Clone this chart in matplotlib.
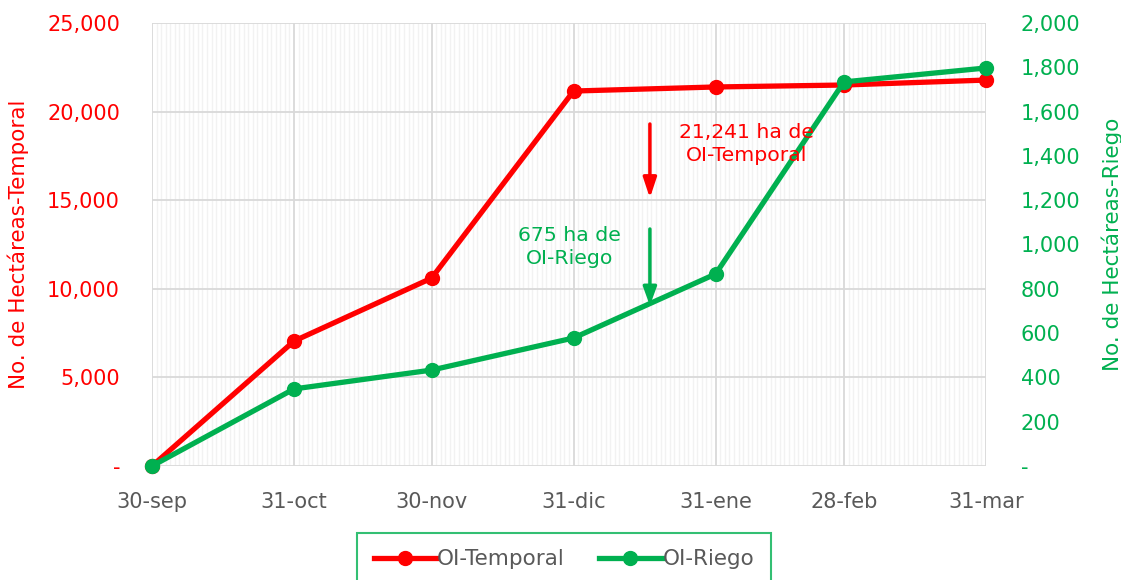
import matplotlib
matplotlib.use("Agg")
import matplotlib.pyplot as plt
import matplotlib.dates as mdates
from matplotlib.ticker import FuncFormatter, MultipleLocator
import datetime as dt

plt.rcParams['font.family'] = ['DejaVu Sans']

dates = ["2021-09-30", "2021-10-31", "2021-11-30", "2021-12-31", "2022-01-31", "2022-02-28", "2022-03-31"]
tick_labels = ["30-sep", "31-oct", "30-nov", "31-dic", "31-ene", "28-feb", "31-mar"]
temporal = [0, 7050, 10600, 21160, 21390, 21500, 21780]
riego = [0, 348, 433, 578, 867, 1734, 1797]

RED = "#FF0000"
GREEN = "#00B050"
GRAY = "#595959"
FS = 15
FSL = 15.5

x = [dt.datetime.strptime(d, "%Y-%m-%d") for d in dates]

fig = plt.figure(figsize=(11.21, 5.80), dpi=100)
ax = fig.add_axes([152/1121, 1-466/580, 834/1121, 443/580])
ax2 = ax.twinx()

ax.set_xlim(x[0], x[-1])
ax.set_ylim(0, 25000)
ax2.set_ylim(0, 2000)

# grid
ax.xaxis.set_minor_locator(mdates.DayLocator())
ax.set_xticks(x)
ax.set_xticklabels(tick_labels)
ax.grid(which='minor', axis='x', color='#F2F2F2', lw=1.0, zorder=0)
ax.grid(which='major', axis='x', color='#D9D9D9', lw=1.3, zorder=0)
ax.grid(which='major', axis='y', color='#D9D9D9', lw=1.3, zorder=0)
ax.yaxis.set_major_locator(MultipleLocator(5000))
ax2.yaxis.set_major_locator(MultipleLocator(200))

fmt = FuncFormatter(lambda v, p: "-" if v == 0 else f"{v:,.0f}")
ax.yaxis.set_major_formatter(fmt)
ax2.yaxis.set_major_formatter(fmt)

for a in (ax, ax2):
    for s in a.spines.values():
        s.set_visible(False)
ax.tick_params(axis='x', which='both', length=0, pad=19, labelsize=FS, labelcolor=GRAY)
ax.tick_params(axis='y', length=0, pad=23, labelsize=FS, labelcolor=RED)
ax2.tick_params(axis='y', length=0, pad=25, labelsize=FS, labelcolor=GREEN)

ax.set_ylabel("No. de Hectáreas-Temporal", color=RED, fontsize=FSL)
ax.yaxis.set_label_coords(-0.148, 0.5)
ax2.set_ylabel("No. de Hectáreas-Riego", color=GREEN, fontsize=FSL)
ax2.yaxis.set_label_coords(1.138, 0.5)

l1, = ax2.plot([], [], color=RED, lw=3.8, marker='o', ms=10, label="OI-Temporal")
ax.plot(x, temporal, color=RED, lw=3.8, marker='o', ms=10, zorder=3, clip_on=False)
l2, = ax2.plot(x, riego, color=GREEN, lw=3.8, marker='o', ms=10, zorder=3, label="OI-Riego", clip_on=False)

# annotations
ax2.annotate("", xy=(0.597, 0.605), xytext=(0.597, 0.772), xycoords='axes fraction',
             arrowprops=dict(arrowstyle='-|>,head_width=0.4,head_length=1.2', color=RED, lw=2.5, shrinkA=0, shrinkB=0))
ax2.annotate("", xy=(0.597, 0.362), xytext=(0.597, 0.535), xycoords='axes fraction',
             arrowprops=dict(arrowstyle='-|>,head_width=0.4,head_length=1.1', color=GREEN, lw=2.5, shrinkA=0, shrinkB=0))
ax2.text(0.713, 0.727, "21,241 ha de\nOI-Temporal", transform=ax2.transAxes, color=RED,
         fontsize=14.7, ha='center', va='center', linespacing=1.25)
ax2.text(0.501, 0.494, "675 ha de\nOI-Riego", transform=ax2.transAxes, color=GREEN,
         fontsize=14.7, ha='center', va='center', linespacing=1.25)

leg = fig.legend(handles=[l1, l2], loc='upper center', bbox_to_anchor=(564/1121, 1-533/580),
                 ncol=2, frameon=True, fancybox=False, fontsize=FSL, handlelength=2.9,
                 borderpad=0.75, borderaxespad=0, columnspacing=1.6, handletextpad=0.05)
leg.get_frame().set_edgecolor(GREEN)
leg.get_frame().set_linewidth(1.5)
for t in leg.get_texts():
    t.set_color(GRAY)

fig.savefig("out.png", dpi=100)
